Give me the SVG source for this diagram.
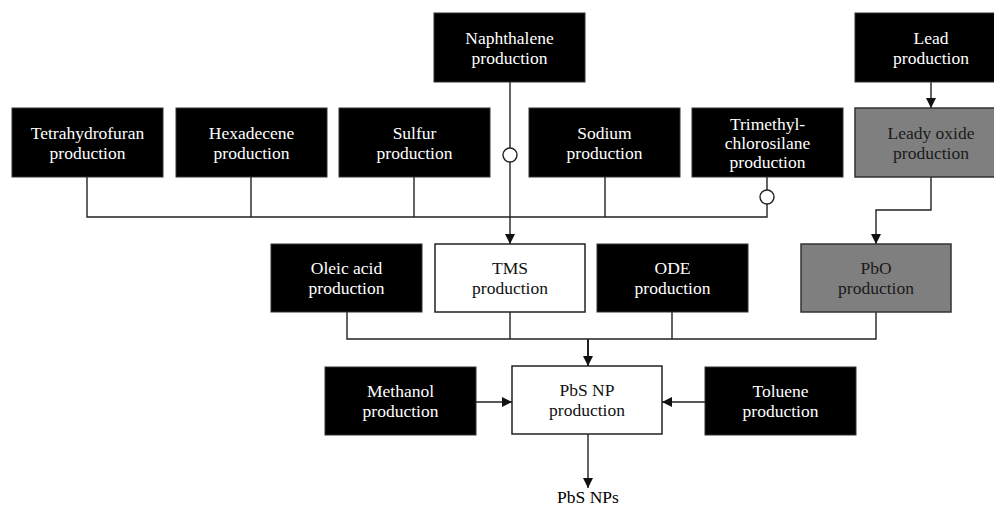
<svg xmlns="http://www.w3.org/2000/svg" width="994" height="508" viewBox="0 0 994 508">
<style>
text{font-family:"Liberation Serif","Times New Roman",serif;font-size:17.5px;text-anchor:middle}
.blk rect{fill:#000;stroke:#333;stroke-width:1}
.blk text{fill:#fff}
.wht rect{fill:#fff;stroke:#222;stroke-width:1.5}
.wht text{fill:#111}
.gry rect{fill:#7f7f7f;stroke:#333;stroke-width:1.5}
.gry text{fill:#1a1a1a}
#connectors path,#connectors line{fill:none;stroke:#222;stroke-width:1.4}
#connectors circle{fill:#fff;stroke:#222;stroke-width:1.4}
</style>
<defs>
<marker id="arr" viewBox="0 0 10 10" refX="10" refY="5" markerWidth="10" markerHeight="10" markerUnits="userSpaceOnUse" orient="auto">
<path d="M0,0 L10,5 L0,10 Z" fill="#111"/>
</marker>
</defs>
<rect width="994" height="508" fill="#fff"/>

<g id="connectors">
<path d="M87,177 V217 H767 V204"/>
<line x1="251" y1="177" x2="251" y2="217"/>
<line x1="414" y1="177" x2="414" y2="217"/>
<line x1="605" y1="177" x2="605" y2="217"/>
<line x1="767" y1="177" x2="767" y2="190"/>
<circle cx="767" cy="197" r="7"/>
<line x1="510" y1="82" x2="510" y2="148"/>
<circle cx="510" cy="155" r="7"/>
<line x1="510" y1="162" x2="510" y2="244" marker-end="url(#arr)"/>
<line x1="931" y1="82" x2="931" y2="108" marker-end="url(#arr)"/>
<path d="M931,177 V210 H876 V244" marker-end="url(#arr)"/>
<path d="M347,312 V339 H876 V312"/>
<line x1="510" y1="312" x2="510" y2="339"/>
<line x1="672" y1="312" x2="672" y2="339"/>
<line x1="588" y1="339" x2="588" y2="366" marker-end="url(#arr)" style="stroke-width:2"/>
<line x1="476" y1="402" x2="512" y2="402" marker-end="url(#arr)"/>
<line x1="705" y1="402" x2="662" y2="402" marker-end="url(#arr)"/>
<line x1="588" y1="434" x2="588" y2="488" marker-end="url(#arr)"/>
</g>

<g id="naphthalene" class="blk"><rect x="434" y="13" width="151" height="69"/><text x="509.5" y="44">Naphthalene</text><text x="509.5" y="64">production</text></g>
<g id="lead" class="blk"><rect x="855" y="13" width="151" height="69"/><text x="931" y="44">Lead</text><text x="931" y="64">production</text></g>

<g id="thf" class="blk"><rect x="12" y="108" width="151" height="69"/><text x="87.5" y="139">Tetrahydrofuran</text><text x="87.5" y="159">production</text></g>
<g id="hexadecene" class="blk"><rect x="176" y="108" width="151" height="69"/><text x="251.5" y="139">Hexadecene</text><text x="251.5" y="159">production</text></g>
<g id="sulfur" class="blk"><rect x="339" y="108" width="151" height="69"/><text x="414.5" y="139">Sulfur</text><text x="414.5" y="159">production</text></g>
<g id="sodium" class="blk"><rect x="529" y="108" width="151" height="69"/><text x="604.5" y="139">Sodium</text><text x="604.5" y="159">production</text></g>
<g id="tmcs" class="blk"><rect x="692" y="108" width="151" height="69"/><text x="767.5" y="130">Trimethyl-</text><text x="767.5" y="149">chlorosilane</text><text x="767.5" y="168">production</text></g>
<g id="leadyoxide" class="gry"><rect x="855" y="108" width="151" height="69"/><text x="931" y="139">Leady oxide</text><text x="931" y="159">production</text></g>

<g id="oleic" class="blk"><rect x="271" y="244" width="151" height="68"/><text x="346.5" y="274">Oleic acid</text><text x="346.5" y="294">production</text></g>
<g id="tms" class="wht"><rect x="435" y="244" width="150" height="68"/><text x="510" y="274">TMS</text><text x="510" y="294">production</text></g>
<g id="ode" class="blk"><rect x="597" y="244" width="151" height="68"/><text x="672.5" y="274">ODE</text><text x="672.5" y="294">production</text></g>
<g id="pbo" class="gry"><rect x="801" y="244" width="150" height="68"/><text x="876" y="274">PbO</text><text x="876" y="294">production</text></g>

<g id="methanol" class="blk"><rect x="325" y="367" width="151" height="68"/><text x="400.5" y="397">Methanol</text><text x="400.5" y="417">production</text></g>
<g id="pbsnp" class="wht"><rect x="512" y="366" width="150" height="68"/><text x="587" y="396">PbS NP</text><text x="587" y="416">production</text></g>
<g id="toluene" class="blk"><rect x="705" y="367" width="151" height="68"/><text x="780.5" y="397">Toluene</text><text x="780.5" y="417">production</text></g>

<g id="pbsnps"><text x="588" y="503">PbS NPs</text></g>
</svg>
